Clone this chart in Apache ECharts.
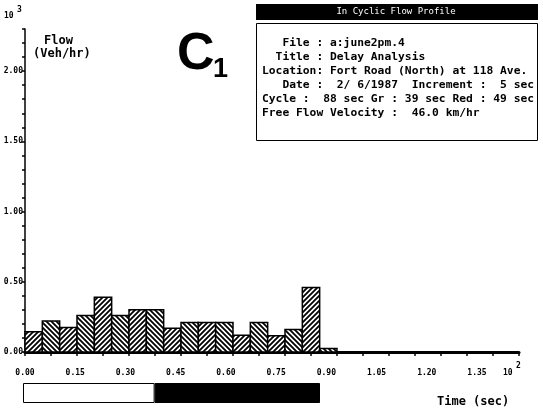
<!DOCTYPE html>
<html>
<head>
<meta charset="utf-8">
<script src="https://cdn.jsdelivr.net/npm/echarts@6/dist/echarts.min.js"></script>
<style>
  html, body { margin: 0; padding: 0; background: #fff; }
  #chart { width: 543px; height: 413px; }
</style>
</head>
<body>
<div id="chart"></div>
<script>
// Cyclic flow profile: flow per 5-second increment over one signal cycle
const incrementSec = 5;
const flowValues = [0.145, 0.22, 0.175, 0.26, 0.39, 0.26, 0.30, 0.30, 0.17,
                    0.21, 0.21, 0.21, 0.12, 0.21, 0.115, 0.16, 0.46, 0.025]; // x10^3 veh/hr
const greenSec = 39;
const redSec = 49;
const xTickLabels = ['0.00', '0.15', '0.30', '0.45', '0.60', '0.75', '0.90', '1.05', '1.20', '1.35'];
const yTickLabels = ['0.00', '0.50', '1.00', '1.50', '2.00'];
const infoLines = [
  '   File : a:june2pm.4',
  '  Title : Delay Analysis',
  'Location: Fort Road (North) at 118 Ave.',
  '   Date :  2/ 6/1987  Increment :  5 sec',
  'Cycle :  88 sec Gr : 39 sec Red : 49 sec',
  'Free Flow Velocity :  46.0 km/hr'
];

// bins in units of 10^2 sec
const bins = flowValues.map((v, i) => [i * incrementSec / 100, (i + 1) * incrementSec / 100, v, i]);

function hatch(dir) {
  const s = 5;
  const c = document.createElement('canvas');
  c.width = s; c.height = s;
  const g = c.getContext('2d');
  g.fillStyle = '#fff';
  g.fillRect(0, 0, s, s);
  g.strokeStyle = '#000';
  g.lineWidth = 1.8;
  g.beginPath();
  if (dir > 0) {
    g.moveTo(-1, s + 1); g.lineTo(s + 1, -1);
    g.moveTo(-1, 1); g.lineTo(1, -1);
    g.moveTo(s - 1, s + 1); g.lineTo(s + 1, s - 1);
  } else {
    g.moveTo(-1, -1); g.lineTo(s + 1, s + 1);
    g.moveTo(s - 1, -1); g.lineTo(s + 1, 1);
    g.moveTo(-1, s - 1); g.lineTo(1, s + 1);
  }
  g.stroke();
  return { image: c, repeat: 'repeat' };
}
const hatchA = hatch(1);
const hatchB = hatch(-1);

const mono = '"DejaVu Sans Mono", "Liberation Mono", monospace';
const isMult = (v, step) => Math.abs(v / step - Math.round(v / step)) < 1e-6;

const chart = echarts.init(document.getElementById('chart'), null, { renderer: 'canvas' });
chart.setOption({
  animation: false,
  backgroundColor: '#fff',
  grid: [
    { left: 25, top: 29, width: 494, bottom: 61, containLabel: false },
    { left: 23, top: 383, width: 297, height: 20, containLabel: false }
  ],
  xAxis: [
    {
      type: 'value', gridIndex: 0, min: 0, max: 1.425, interval: 0.075,
      axisLine: { show: true, lineStyle: { color: '#000', width: 3 } },
      axisTick: { show: true, inside: false, length: 4, lineStyle: { color: '#000', width: 1.5 } },
      axisLabel: { show: false },
      splitLine: { show: false }
    },
    {
      // tick labels of the time axis
      type: 'value', gridIndex: 0, position: 'bottom', min: 0, max: 1.4755, interval: 0.15,
      axisLine: { show: false }, axisTick: { show: false }, splitLine: { show: false },
      axisLabel: {
        show: true, showMaxLabel: false, margin: 17,
        fontFamily: mono, fontSize: 8, fontWeight: 'bold', color: '#000',
        formatter: v => {
          const k = Math.round(v / 0.15);
          return isMult(v, 0.15) && k < xTickLabels.length ? xTickLabels[k] : '';
        }
      }
    },
    {
      type: 'value', gridIndex: 1, min: 0, max: (greenSec + redSec) / 100,
      show: false
    }
  ],
  yAxis: [
    {
      type: 'value', gridIndex: 0, min: 0, max: 2.3, interval: 0.1,
      axisLine: { show: true, lineStyle: { color: '#000', width: 1.5 } },
      axisTick: { show: true, length: 3, lineStyle: { color: '#000', width: 1.5 } },
      splitLine: { show: false },
      axisLabel: {
        margin: 2, fontFamily: mono, fontSize: 8, fontWeight: 'bold', color: '#000',
        formatter: v => {
          const k = Math.round(v / 0.5);
          return isMult(v, 0.5) && k < yTickLabels.length ? yTickLabels[k] : '';
        }
      }
    },
    {
      type: 'category', gridIndex: 1, data: ['signal'], show: false
    }
  ],
  series: [
    {
      type: 'custom',
      xAxisIndex: 0, yAxisIndex: 0,
      data: bins,
      renderItem: (params, api) => {
        const p0 = api.coord([api.value(0), api.value(2)]);
        const p1 = api.coord([api.value(1), 0]);
        const idx = api.value(3);
        return {
          type: 'rect',
          shape: { x: p0[0], y: p0[1], width: p1[0] - p0[0], height: p1[1] - p0[1] },
          style: { fill: idx % 2 === 0 ? hatchA : hatchB, stroke: '#000', lineWidth: 1.5 }
        };
      }
    },
    {
      name: 'Green', type: 'bar', xAxisIndex: 2, yAxisIndex: 1, stack: 'signal',
      barWidth: 20, data: [greenSec / 100],
      itemStyle: { color: '#fff', borderColor: '#000', borderWidth: 1 }
    },
    {
      name: 'Red', type: 'bar', xAxisIndex: 2, yAxisIndex: 1, stack: 'signal',
      barWidth: 20, data: [redSec / 100],
      itemStyle: { color: '#000', borderColor: '#000', borderWidth: 1 }
    }
  ],
  graphic: [
    // axis exponents
    { type: 'text', left: 4, top: 12, style: { text: '10', font: 'bold 8px ' + mono, fill: '#000' } },
    { type: 'text', left: 17, top: 6, style: { text: '3', font: 'bold 8px ' + mono, fill: '#000' } },
    { type: 'text', left: 503, top: 369, style: { text: '10', font: 'bold 8px ' + mono, fill: '#000' } },
    { type: 'text', left: 516, top: 362, style: { text: '2', font: 'bold 8px ' + mono, fill: '#000' } },
    // axis titles
    { type: 'text', left: 44, top: 35, style: { text: 'Flow', font: 'bold 12px ' + mono, fill: '#000' } },
    { type: 'text', left: 33, top: 48, style: { text: '(Veh/hr)', font: 'bold 12px ' + mono, fill: '#000' } },
    { type: 'text', left: 437, top: 396, style: { text: 'Time (sec)', font: 'bold 12px ' + mono, fill: '#000' } },
    // panel tag
    { type: 'text', left: 177, top: 29, style: { text: 'C', font: 'bold 52px "Liberation Sans", Arial, sans-serif', fill: '#000' } },
    { type: 'text', left: 213, top: 56, style: { text: '1', font: 'bold 27px "Liberation Sans", Arial, sans-serif', fill: '#000' } },
    // info box
    { type: 'rect', shape: { x: 256, y: 4, width: 282, height: 16 }, style: { fill: '#000' } },
    { type: 'text', x: 396, y: 12, style: { text: 'In Cyclic Flow Profile', font: '9px ' + mono, fill: '#fff', align: 'center', verticalAlign: 'middle' } },
    { type: 'rect', shape: { x: 256.5, y: 23.5, width: 281, height: 117 }, style: { fill: '#fff', stroke: '#000', lineWidth: 1 } },
    {
      type: 'text', left: 262, top: 36,
      style: { text: infoLines.join('\n'), font: 'bold 11.3px ' + mono, lineHeight: 14, fill: '#000' }
    }
  ]
});
</script>
</body>
</html>
